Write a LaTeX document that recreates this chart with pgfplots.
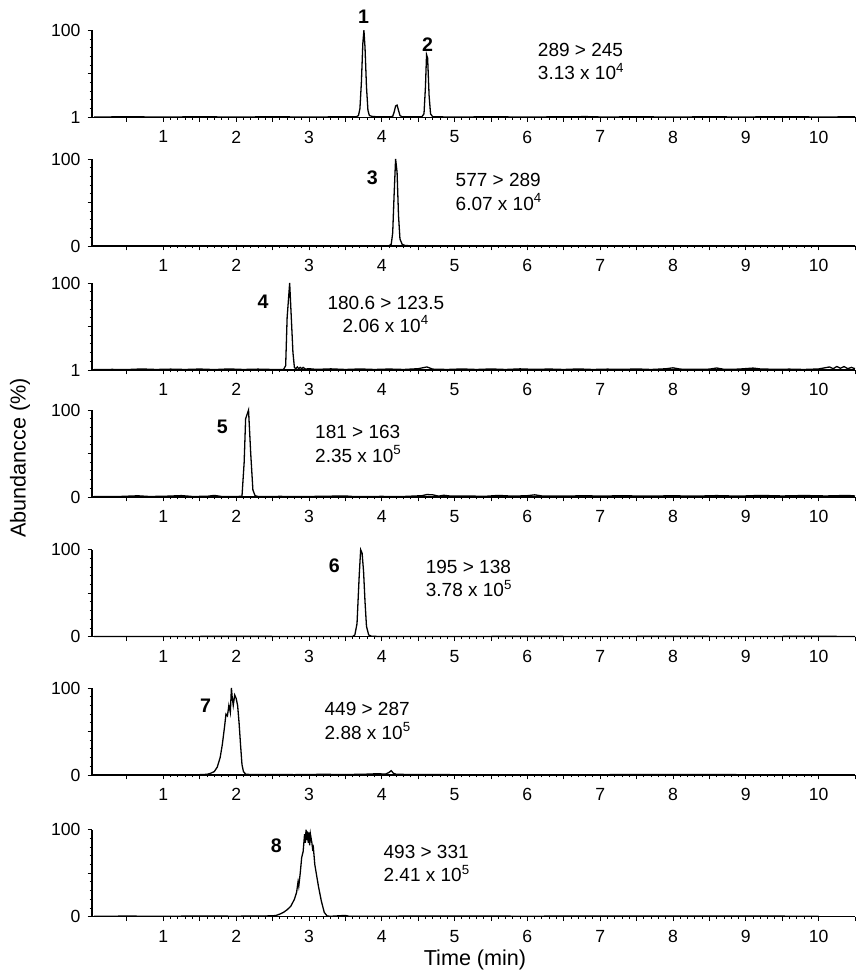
\documentclass[border=0pt]{standalone}
\usepackage{fontspec}
\setmainfont{Liberation Sans}
\usepackage{pgfplots}
\pgfplotsset{compat=1.18}
\pgfplotsset{
 chrom/.style={
  scale only axis, width=381.5pt, height=43.5pt,
  xmin=0.02, xmax=10.5, ymin=0, ymax=100,
  axis x line*=bottom, axis y line*=left,
  axis line style={line width=0.55pt},
  xtick={1,2,3,4,5,6,7,8,9,10},
  extra x ticks={0.5,1.5,2.5,3.5,4.5,5.5,6.5,7.5,8.5,9.5,10.5}, extra x tick labels={},
  minor x tick num=9,
  ytick={0,100}, extra y ticks={50}, extra y tick labels={}, minor y tick num=9,
  tick align=outside, major tick length=2.2pt, minor tick length=1.2pt,
  tick style={black, line width=0.45pt},
  tick label style={font=\fontsize{8.8}{10}\selectfont},
  xticklabel style={yshift=-1pt},
  /pgf/number format/assume math mode=true,
  clip=false, anchor=south west,
 },
 trace/.style={black, line width=0.65pt, mark=none},
}
\tikzset{
 pk/.style={font=\bfseries\fontsize{9.8}{11}\selectfont, anchor=center},
 ann/.style={font=\fontsize{9.5}{11.7}\selectfont, anchor=west, align=left, inner sep=0pt},
}
\begin{document}
\begin{tikzpicture}
\path[use as bounding box] (-46pt,-488.5pt) rectangle (382.5pt,0pt);

% Panel 1: 289 > 245
\begin{axis}[chrom, at={(0pt,-58.65pt)}, yticklabels={1,100}]
\addplot[trace] coordinates {
(0.05,0.4)(0.5,0.5)(1.0,0.4)(1.5,0.5)(2.0,0.4)(2.5,0.5)(3.0,0.4)(3.5,0.5)(3.65,0.5)
(3.68,2)(3.70,10)(3.72,40)(3.74,85)(3.755,100)(3.77,80)(3.79,35)(3.81,8)(3.83,2)(3.87,1)(3.95,0.5)
(4.10,0.5)(4.15,1)(4.17,6)(4.19,13)(4.21,14)(4.23,8)(4.25,2)(4.28,0.5)
(4.55,0.5)(4.58,4)(4.60,35)(4.615,72)(4.63,68)(4.65,25)(4.67,4)(4.70,0.5)
(5.0,0.4)(5.5,0.5)(6.0,0.4)(6.5,0.5)(6.8,0.8)(7.0,0.4)(7.5,0.5)(8.0,0.4)(8.5,0.5)(9.0,0.4)(9.5,0.6)(10.0,0.4)(10.5,0.5)};
\node[pk] at (axis cs:3.75,115) {1};
\node[pk] at (axis cs:4.63,83) {2};
\node[ann] at (axis cs:6.14,64) {289 > 245\\3.13 x 10\textsuperscript{4}};
\end{axis}

% Panel 2: 577 > 289
\begin{axis}[chrom, at={(0pt,-123pt)}]
\addplot[trace] coordinates {
(0.05,0.3)(1,0.3)(2,0.4)(3,0.3)(4.0,0.3)(4.10,0.3)(4.13,2)(4.15,15)(4.17,60)(4.19,100)(4.21,85)
(4.23,35)(4.25,8)(4.28,2)(4.32,0.5)(4.4,0.3)(5,0.3)(6,0.4)(7,0.3)(8,0.3)(9,0.4)(10,0.3)(10.5,0.3)};
\node[pk] at (axis cs:3.87,78) {3};
\node[ann] at (axis cs:5.01,62) {577 > 289\\6.07 x 10\textsuperscript{4}};
\end{axis}

% Panel 3: 180.6 > 123.5
\begin{axis}[chrom, at={(0pt,-185pt)}, yticklabels={1,100}]
\addplot[trace] coordinates {
(0.05,0.5)(0.3,0.7)(0.5,0.5)(0.7,1.2)(0.9,0.6)(1.1,1.0)(1.3,0.6)(1.5,1.1)(1.7,0.5)(1.9,1.2)(2.1,0.6)(2.3,1.0)(2.5,0.6)
(2.65,0.5)(2.68,5)(2.70,60)(2.735,100)(2.78,20)(2.80,3)(2.82,1.5)(2.84,3.5)(2.86,1.5)(2.88,3)(2.90,1.5)(2.92,3)(2.95,1)(3.0,1.5)
(3.1,0.7)(3.3,1.3)(3.5,0.6)(3.7,1.2)(3.9,0.6)(4.1,1.1)(4.3,0.6)(4.5,1.5)(4.62,3.5)(4.7,1.0)(4.9,0.6)(5.1,1.2)(5.3,0.6)
(5.5,1.2)(5.7,0.6)(5.9,1.3)(6.1,0.7)(6.3,1.1)(6.5,0.6)(6.7,1.2)(6.9,0.6)(7.1,1.0)(7.3,0.7)(7.5,1.2)(7.7,0.6)(7.9,1.4)
(8.0,2.5)(8.1,1.0)(8.3,0.7)(8.5,1.0)(8.6,2.3)(8.7,0.8)(8.9,1.0)(9.1,2.2)(9.2,1.2)(9.4,0.8)(9.6,1.0)(9.8,0.6)(10.0,1.2)
(10.15,3.5)(10.2,1.5)(10.25,4)(10.3,2)(10.35,4)(10.4,1.5)(10.45,3)(10.5,1.5)};
\node[pk] at (axis cs:2.37,78) {4};
\node[ann, align=center] at (axis cs:3.25,64) {180.6 > 123.5\\2.06 x 10\textsuperscript{4}};
\end{axis}

% Panel 4: 181 > 163
\begin{axis}[chrom, at={(0pt,-248.5pt)}]
\addplot[trace] coordinates {
(0.05,0.5)(0.4,0.6)(0.65,1.4)(0.8,0.6)(1.0,0.8)(1.25,1.6)(1.4,0.6)(1.6,0.8)(1.7,1.8)(1.8,0.6)(2.0,0.6)
(2.08,0.8)(2.11,40)(2.13,90)(2.17,100)(2.20,50)(2.23,8)(2.26,1.5)(2.3,0.6)(2.6,0.7)(3.0,0.6)(3.5,1.2)(3.6,0.6)
(4.0,0.7)(4.3,0.6)(4.55,1.5)(4.62,2.8)(4.7,2.5)(4.78,1.0)(4.85,2.0)(4.95,1.0)(5.2,1.2)(5.4,0.7)(5.6,1.8)(5.8,1.0)
(6.0,1.5)(6.1,2.5)(6.2,1.2)(6.5,1.0)(6.8,1.5)(7.0,1.0)(7.3,1.5)(7.6,1.0)(8.0,1.4)(8.3,1.0)(8.6,1.6)(8.9,1.0)
(9.2,1.8)(9.5,1.2)(9.8,1.7)(10.1,1.2)(10.4,1.8)(10.5,1.2)};
\node[pk] at (axis cs:1.81,81) {5};
\node[ann] at (axis cs:3.08,61) {181 > 163\\2.35 x 10\textsuperscript{5}};
\end{axis}

% Panel 5: 195 > 138
\begin{axis}[chrom, at={(0pt,-318.35pt)}]
\addplot[trace] coordinates {
(0.05,0.3)(1,0.3)(2,0.4)(3,0.3)(3.6,0.3)(3.63,2)(3.66,15)(3.69,70)(3.71,100)(3.73,96)(3.75,75)(3.77,40)
(3.79,12)(3.82,2)(3.86,0.5)(3.95,0.3)(5,0.3)(6,0.4)(7,0.3)(8,0.4)(9,0.3)(10,0.4)(10.5,0.3)};
\node[pk] at (axis cs:3.35,81) {6};
\node[ann] at (axis cs:4.60,67) {195 > 138\\3.78 x 10\textsuperscript{5}};
\end{axis}

% Panel 6: 449 > 287
\begin{axis}[chrom, at={(0pt,-387.5pt)}]
\addplot[trace] coordinates {
(0.05,0.3)(0.5,0.4)(1.0,0.3)(1.5,0.4)(1.6,0.8)(1.65,2)(1.70,4)(1.74,9)(1.78,20)(1.81,35)(1.84,55)(1.86,70)
(1.88,68)(1.90,80)(1.92,72)(1.935,100)(1.945,90)(1.96,80)(1.98,92)(2.0,88)(2.02,80)(2.04,60)(2.06,35)(2.08,12)
(2.10,4)(2.13,1)(2.2,0.5)(2.5,0.6)(2.8,0.4)(3.2,0.8)(3.5,0.5)(3.8,1.0)(3.95,1.5)(4.05,1)(4.10,3)(4.13,5)(4.16,2)
(4.2,0.8)(4.5,0.5)(5,0.4)(6,0.4)(7,0.4)(8,0.5)(9,0.4)(10,0.4)};
\node[pk] at (axis cs:1.58,80) {7};
\node[ann] at (axis cs:3.21,62) {449 > 287\\2.88 x 10\textsuperscript{5}};
\end{axis}

% Panel 7: 493 > 331
\begin{axis}[chrom, at={(0pt,-458.35pt)}]
\addplot[trace] coordinates {
(0.05,0.5)(0.5,0.7)(1,0.5)(1.5,0.8)(2,0.6)(2.3,0.8)(2.5,1)(2.55,1.5)(2.6,3)(2.65,5)(2.7,8)(2.75,12)(2.8,20)
(2.83,28)(2.85,40)(2.86,35)(2.88,50)(2.9,68)(2.92,75)(2.94,95)(2.95,85)(2.96,100)(2.97,88)(2.98,98)(2.99,85)
(3.0,97)(3.01,82)(3.02,95)(3.04,85)(3.05,78)(3.06,80)(3.08,60)(3.09,55)(3.11,45)(3.13,35)(3.17,18)(3.21,5)
(3.25,0.8)(3.3,0.5)(3.5,1.5)(3.55,0.5)(4,0.6)(5,0.8)(6,0.6)(7,0.8)(8,0.7)(9,0.7)(10,0.6)};
\node[pk] at (axis cs:2.55,81) {8};
\node[ann] at (axis cs:4.02,61) {493 > 331\\2.41 x 10\textsuperscript{5}};
\end{axis}

\node[rotate=90, font=\fontsize{10.8}{12}\selectfont] at (-36pt,-229pt) {Abundancce (\%)};
\node[font=\fontsize{10.8}{12}\selectfont] at (191.5pt,-480pt) {Time (min)};
\end{tikzpicture}
\end{document}
